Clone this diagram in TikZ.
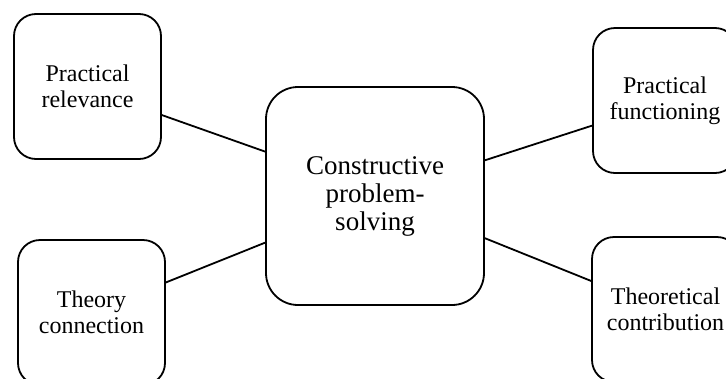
\documentclass[tikz,border=0pt]{standalone}
\usepackage{fontspec}
\setmainfont{Liberation Serif}
\begin{document}
\begin{tikzpicture}[x=1bp,y=-1bp,
  box/.style={draw=black, line width=1.8bp, rounded corners=22bp, fill=white,
    align=center, inner sep=0pt, minimum width=147bp, minimum height=145bp,
    font=\fontsize{24bp}{26bp}\selectfont},
  hub/.style={box, rounded corners=32bp, minimum width=218bp, minimum height=218bp,
    font=\fontsize{27bp}{28bp}\selectfont},
  link/.style={draw=black, line width=1.8bp}]
\useasboundingbox (0,0) rectangle (726,378);
\clip (0,0) rectangle (726,378);

% central box
\node[hub] (cps) at (375,196) {Constructive\\problem-\\solving};

% surrounding boxes
\node[box] (pr) at (87.5,86.5) {Practical\\relevance};
\node[box] (tc) at (91.5,312.5) {Theory\\connection};
\node[box, minimum width=144bp] (pf) at (665,100.5) {Practical\\functioning};
\node[box] (tcon) at (665.5,309.5) {Theoretical\\contribution};

% connectors
\draw[link] (pr.-21) -- (cps.158);
\draw[link] (tc.22.5) -- (cps.203);
\draw[link] (cps.18) -- (pf.199);
\draw[link] (cps.-21.5) -- (tcon.159);
\end{tikzpicture}
\end{document}
